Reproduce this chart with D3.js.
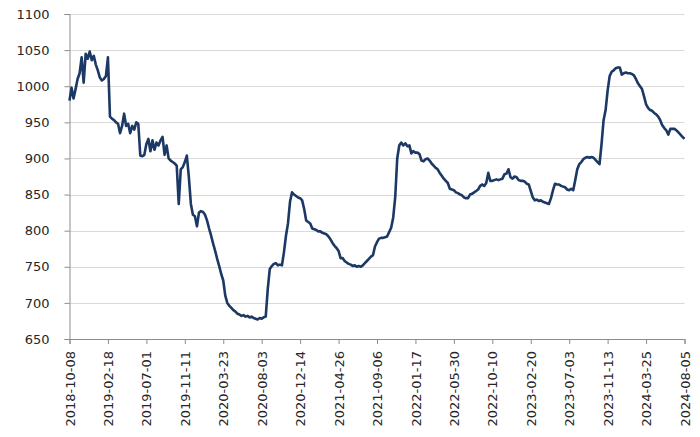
<!DOCTYPE html>
<html><head><meta charset="utf-8">
<script src="https://cdn.jsdelivr.net/npm/d3@7"></script>
<style>body{margin:0;background:#fff}svg{display:block}</style>
</head><body>
<svg id="c" width="700" height="437"></svg>
<script>
const startDate = "2018-10-08";
const tickLabels = ["2018-10-08","2019-02-18","2019-07-01","2019-11-11","2020-03-23","2020-08-03","2020-12-14","2021-04-26","2021-09-06","2022-01-17","2022-05-30","2022-10-10","2023-02-20","2023-07-03","2023-11-13","2024-03-25","2024-08-05"];
const yTicks = [650,700,750,800,850,900,950,1000,1050,1100];
// weekly values
const values = [
980,998,983,996,1010,1018,1040,1005,1045,1038,
1048,1036,1042,1030,1022,1012,1008,1010,1014,1040,
958,955,953,950,948,935,945,962,945,948,
935,945,940,950,948,904,903,905,920,927,
910,925,912,922,918,925,930,905,918,900,
897,895,893,890,837,885,888,895,904,874,
837,822,820,806,825,827,826,822,814,803,
793,782,772,761,751,740,731,710,700,696,
693,690,688,685,684,682,683,681,682,680,
681,679,678,677,679,678,680,681,719,747,
751,754,755,752,753,752,770,793,810,840,
853,850,848,846,845,842,830,814,812,810,
803,802,801,799,799,797,796,795,792,788,
783,779,776,772,762,762,758,756,754,753,
751,752,750,751,750,752,755,758,761,764,
766,778,784,789,790,790,791,792,798,804,
818,846,900,918,922,918,921,917,918,907,
910,908,908,906,897,896,899,900,897,893,
890,887,885,880,876,872,869,866,858,857,
856,853,852,850,849,846,845,845,850,851,
853,855,857,862,864,862,866,880,869,869,
870,871,870,871,872,878,879,885,874,872,
875,874,870,869,869,868,865,864,855,846,
842,843,841,842,840,839,838,837,845,856,
865,864,864,862,861,860,857,856,858,856,
870,885,892,895,899,901,902,901,902,901,
898,895,892,920,953,967,994,1014,1020,1022,
1025,1026,1026,1016,1018,1019,1018,1018,1017,1015,
1010,1004,1000,996,986,975,970,967,966,963,
961,958,953,946,942,939,933,941,941,941,
939,936,933,930,927
];

const parse = d3.timeParse("%Y-%m-%d");
const t0 = parse(startDate);
const data = values.map((v,i)=>({date:d3.timeWeek.offset(t0,i), value:v}));
const tickDates = tickLabels.map(parse);

const m = {l:69.5, r:684.5, t:14, b:339};
const x = d3.scaleTime().domain([t0, tickDates[tickDates.length-1]]).range([m.l, m.r]);
const y = d3.scaleLinear().domain([650,1100]).range([m.b, m.t]);

const svg = d3.select("#c");
const font = "'DejaVu Sans', Verdana, sans-serif";

// gridlines
svg.append("g").selectAll("line").data(yTicks.slice(1)).join("line")
  .attr("x1", m.l).attr("x2", m.r)
  .attr("y1", d=>Math.round(y(d))+0.5).attr("y2", d=>Math.round(y(d))+0.5)
  .attr("stroke", "#d9d9d9").attr("stroke-width", 1);

// y axis
const ya = svg.append("g").attr("transform", `translate(${m.l},0)`)
  .call(d3.axisLeft(y).tickValues(yTicks).tickSize(5).tickPadding(15).tickFormat(d3.format("d")));
ya.select(".domain").attr("stroke", "#8c8c8c");
ya.selectAll(".tick line").attr("stroke", "#8c8c8c");
ya.selectAll("text").attr("font-family", font).attr("font-size", 13).attr("fill", "#262626");

// x axis
const xa = svg.append("g").attr("transform", `translate(0,${m.b})`)
  .call(d3.axisBottom(x).tickValues(tickDates).tickSize(5).tickFormat(d3.timeFormat("%Y-%m-%d")));
xa.select(".domain").attr("stroke", "#8c8c8c");
xa.selectAll(".tick line").attr("stroke", "#8c8c8c");
xa.selectAll("text").attr("font-family", font).attr("font-size", 13).attr("fill", "#262626")
  .attr("transform", "rotate(-90)").attr("text-anchor", "end")
  .attr("x", -12).attr("y", 0).attr("dy", "0.35em");

// line
svg.append("path").datum(data)
  .attr("fill", "none").attr("stroke", "#1c3864").attr("stroke-width", 2.6)
  .attr("stroke-linejoin", "round")
  .attr("d", d3.line().x(d=>x(d.date)).y(d=>y(d.value)));
</script>
</body></html>
